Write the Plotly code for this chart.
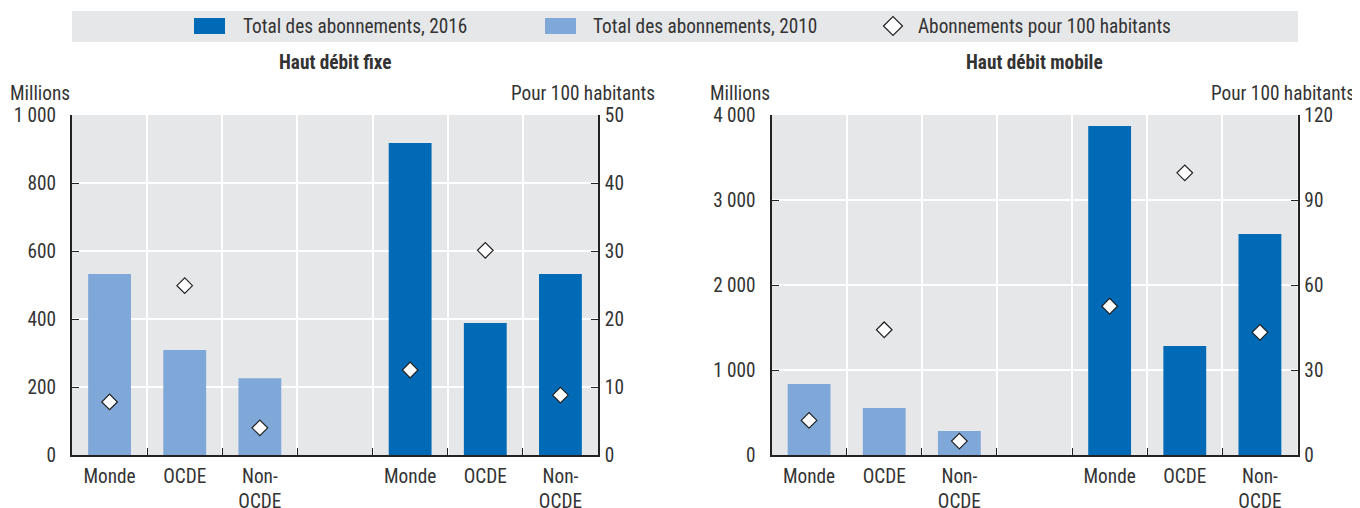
import plotly.graph_objects as go

# ---- data ----
groups = ["Monde", "OCDE", "Non-OCDE"]
group_labels = ["Monde", "OCDE", "Non-<br>OCDE"]

fixe_2010 = [532, 309, 226]
fixe_2016 = [918, 388, 532]
fixe_pc_2010 = [7.8, 24.9, 4.0]
fixe_pc_2016 = [12.5, 30.1, 8.8]

mobile_2010 = [835, 553, 282]
mobile_2016 = [3871, 1282, 2600]
mobile_pc_2010 = [12.2, 44.2, 4.9]
mobile_pc_2016 = [52.5, 99.6, 43.3]

panel_titles = ["Haut débit fixe", "Haut débit mobile"]
left_unit = "Millions"
right_unit = "Pour 100 habitants"

series_names = ["Total des abonnements, 2016", "Total des abonnements, 2010",
                "Abonnements pour 100 habitants"]

slots_2010 = ["2010 " + g for g in groups]
slots_2016 = ["2016 " + g for g in groups]
slots = slots_2010 + ["vide"] + slots_2016
slot_text = group_labels + [""] + group_labels

# ---- style ----
FONT = "Liberation Sans Narrow, Arial Narrow, Roboto Condensed, Liberation Sans, sans-serif"
FS = 19.3
DARK = "#006AB6"
LIGHT = "#7FA7D8"
BG = "#E6E7E9"
TXT = "#333333"
AX = "#222222"
OFF = 8                      # page body margin of the html page
W, H = 1360 - OFF, 508 - OFF


def px_x(p):
    return (p - OFF) / W


def px_y(p):
    return 1 - (p - OFF) / H


domains = [[px_x(72), px_x(598)], [px_x(771.5), px_x(1297.5)]]
ydom = [px_y(455), px_y(115)]

fig = go.Figure()

panels = [
    (fixe_2010, fixe_2016, fixe_pc_2010, fixe_pc_2016, [0, 1000], 200, [0, 50], 10),
    (mobile_2010, mobile_2016, mobile_pc_2010, mobile_pc_2016, [0, 4000], 1000, [0, 120], 30),
]

for i, (v10, v16, p10, p16, yr, ydt, y2r, y2dt) in enumerate(panels):
    xa = "x" if i == 0 else "x2"
    ya = "y" if i == 0 else "y3"
    ya2 = "y2" if i == 0 else "y4"
    fig.add_trace(go.Bar(x=slots_2016, y=v16, name=series_names[0], marker_color=DARK,
                         marker_line_width=0, width=0.57, xaxis=xa, yaxis=ya,
                         showlegend=False))
    fig.add_trace(go.Bar(x=slots_2010, y=v10, name=series_names[1], marker_color=LIGHT,
                         marker_line_width=0, width=0.57, xaxis=xa, yaxis=ya,
                         showlegend=False))
    fig.add_trace(go.Scatter(x=slots_2010 + slots_2016, y=p10 + p16, mode="markers",
                             name=series_names[2],
                             marker=dict(symbol="diamond", size=12, color="white",
                                         line=dict(color=AX, width=1.2)),
                             xaxis=xa, yaxis=ya2, showlegend=False))

tickfont = dict(size=FS, color=TXT, family=FONT)
common_x = dict(type="category", categoryorder="array", categoryarray=slots,
                tickmode="array", tickvals=slots, ticktext=slot_text,
                tickson="boundaries", ticks="inside", ticklen=7, tickcolor=AX,
                showgrid=True, gridcolor="white", gridwidth=2,
                showline=True, linecolor=AX, linewidth=2,
                range=[-0.5, 6.5], tickfont=tickfont, ticklabelstandoff=3,
                automargin=False, fixedrange=True)
common_y = dict(showgrid=True, gridcolor="white", gridwidth=2, zeroline=False,
                showline=True, linecolor=AX, linewidth=2, ticks="inside",
                ticklen=7, tickcolor=AX, tickfont=tickfont, separatethousands=True,
                ticklabelstandoff=10, automargin=False, fixedrange=True)
common_y2 = dict(showgrid=False, zeroline=False, showline=True, linecolor=AX,
                 linewidth=2, ticks="inside", ticklen=7, tickcolor=AX, side="right",
                 tickfont=tickfont, ticklabelstandoff=1, automargin=False,
                 fixedrange=True)

fig.update_layout(
    xaxis=dict(domain=domains[0], anchor="y", **common_x),
    xaxis2=dict(domain=domains[1], anchor="y3", **common_x),
    yaxis=dict(domain=ydom, anchor="x", range=panels[0][4], dtick=panels[0][5], **common_y),
    yaxis2=dict(overlaying="y", anchor="x", range=panels[0][6], dtick=panels[0][7], **common_y2),
    yaxis3=dict(domain=ydom, anchor="x2", range=panels[1][4], dtick=panels[1][5], **common_y),
    yaxis4=dict(overlaying="y3", anchor="x2", range=panels[1][6], dtick=panels[1][7], **common_y2),
)

# ---- legend (drawn in the grey band above the panels) ----
legend_y = 26
shapes = [dict(type="rect", xref="paper", yref="paper", x0=px_x(72), x1=px_x(1298),
               y0=px_y(42), y1=px_y(11), fillcolor=BG, line=dict(width=0), layer="below")]
swatches = [(194, DARK, series_names[0], 241), (545, LIGHT, series_names[1], 591)]
for x0, col, name, tx in swatches:
    shapes.append(dict(type="rect", xref="paper", yref="paper", x0=px_x(x0), x1=px_x(x0 + 31),
                       y0=px_y(legend_y + 8), y1=px_y(legend_y - 8), fillcolor=col,
                       line=dict(width=0)))
    fig.add_annotation(text=name, xref="paper", yref="paper", x=px_x(tx), y=px_y(legend_y),
                       xanchor="left", yanchor="middle", showarrow=False,
                       font=dict(size=FS, color=TXT, family=FONT))
dcx, dcy, dr = 893, legend_y, 9.5
shapes.append(dict(type="path", xref="paper", yref="paper",
                   path=(f"M {px_x(dcx - dr)},{px_y(dcy)} L {px_x(dcx)},{px_y(dcy - dr)} "
                         f"L {px_x(dcx + dr)},{px_y(dcy)} L {px_x(dcx)},{px_y(dcy + dr)} Z"),
                   fillcolor="white", line=dict(color=AX, width=1.2)))
fig.add_annotation(text=series_names[2], xref="paper", yref="paper", x=px_x(916),
                   y=px_y(legend_y), xanchor="left", yanchor="middle", showarrow=False,
                   font=dict(size=FS, color=TXT, family=FONT))

fig.update_layout(
    width=W, height=H, barmode="overlay",
    margin=dict(l=0, r=0, t=0, b=0),
    paper_bgcolor="white", plot_bgcolor=BG,
    separators=", ",
    font=dict(family=FONT, size=FS, color=TXT),
    showlegend=False,
    shapes=shapes,
)

for i in range(2):
    d = domains[i]
    fig.add_annotation(text="<b>" + panel_titles[i] + "</b>", xref="paper", yref="paper",
                       x=(d[0] + d[1]) / 2, y=px_y(63), xanchor="center", yanchor="middle",
                       showarrow=False, font=dict(size=FS, color=TXT, family=FONT))
    fig.add_annotation(text=left_unit, xref="paper", yref="paper", x=d[0], y=px_y(93),
                       xanchor="right", yanchor="middle", showarrow=False,
                       font=dict(size=FS, color=TXT, family=FONT))
    fig.add_annotation(text=right_unit, xref="paper", yref="paper", x=d[1] + 59 / W,
                       y=px_y(93), xanchor="right", yanchor="middle", showarrow=False,
                       font=dict(size=FS, color=TXT, family=FONT))

fig.write_html("out.html")
